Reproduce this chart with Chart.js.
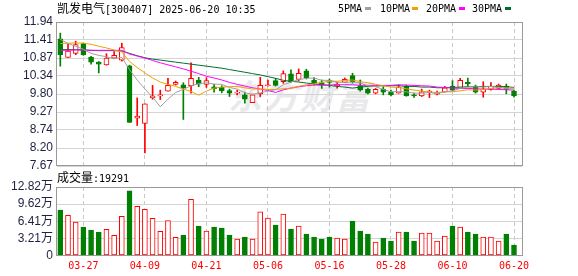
<!DOCTYPE html>
<html>
<head>
<meta charset="UTF-8">
<title>凯发电气 K线</title>
<script src="https://cdn.jsdelivr.net/npm/chart.js@4"></script>
<style>
  body { margin: 0; background: #fff; }
  #wrap { position: relative; width: 578px; height: 276px; overflow: hidden; }
  canvas { position: absolute; left: 0; top: 0; }
  .txt { position: absolute; font-family: "DejaVu Sans Mono", monospace; font-size: 10px; line-height: 12px; color: #000; white-space: nowrap; }
  .cjk { font-family: "Noto Sans CJK SC", sans-serif; font-size: 12px; }
  .box { position: absolute; width: 6px; height: 3px; }
  #watermark { position: absolute; left: 228px; top: 70px; font-family: "Noto Sans CJK SC", sans-serif; font-weight: bold; font-style: italic; font-size: 34px; letter-spacing: 2px; color: #e9e9ec; white-space: nowrap; }
</style>
</head>
<body>
<div id="wrap">
  <div id="watermark">东方财富</div>
  <canvas id="kline" width="578" height="276"></canvas>
  <canvas id="volume" width="578" height="276"></canvas>
  <div class="txt" style="left:57px; top:2px;"><span class="cjk">凯发电气</span>[300407] 2025-06-20 10:35</div>
  <div class="txt" style="left:338px; top:3px;">5PMA</div>
  <div class="box" style="left:365px; top:7px; background:#a0a0a0;"></div>
  <div class="txt" style="left:380px; top:3px;">10PMA</div>
  <div class="box" style="left:412px; top:7px; background:#f0a000;"></div>
  <div class="txt" style="left:426px; top:3px;">20PMA</div>
  <div class="box" style="left:459px; top:7px; background:#ff00ff;"></div>
  <div class="txt" style="left:472px; top:3px;">30PMA</div>
  <div class="box" style="left:505px; top:7px; background:#006f2e;"></div>
  <div class="txt" style="left:57px; top:171px;"><span class="cjk">成交量</span>:19291</div>
</div>
<script>
// trading days shown (MM-DD)
const dates = ['03-24','03-25','03-26','03-27','03-28','03-31','04-01','04-02','04-03','04-07',
  '04-08','04-09','04-10','04-11','04-14','04-15','04-16','04-17','04-18','04-21',
  '04-22','04-23','04-24','04-25','04-28','04-29','04-30','05-06','05-07','05-08',
  '05-09','05-12','05-13','05-14','05-15','05-16','05-19','05-20','05-21','05-22',
  '05-23','05-26','05-27','05-28','05-29','05-30','06-03','06-04','06-05','06-06',
  '06-09','06-10','06-11','06-12','06-13','06-16','06-17','06-18','06-19','06-20'];
const tickDates = ['03-27','04-09','04-21','05-06','05-16','05-28','06-10','06-20'];

const opens = [11.44,10.89,11.01,11.30,10.89,10.75,10.67,10.87,10.81,10.64,
  9.09,8.93,9.69,9.75,9.89,10.09,10.08,10.05,10.22,10.09,
  10.02,10.00,9.91,9.83,9.78,9.55,9.81,10.05,10.20,10.17,
  10.40,10.24,10.49,10.22,10.14,10.20,10.05,10.15,10.35,10.05,
  9.94,9.83,9.95,9.87,9.83,10.04,9.78,9.75,9.85,9.80,
  9.87,10.04,9.97,10.15,10.04,9.86,9.94,9.97,10.04,9.89];
const highs = [11.61,11.29,11.37,11.32,10.92,10.77,11.00,11.06,11.31,10.66,
  9.69,9.51,10.06,9.92,10.27,10.19,10.14,10.73,10.30,10.29,
  10.09,10.05,9.95,9.92,9.86,9.78,10.30,10.22,10.27,10.49,
  10.52,10.55,10.54,10.29,10.22,10.25,10.16,10.28,10.42,10.22,
  9.98,9.97,10.02,9.92,10.07,10.07,9.83,9.95,9.92,9.89,
  10.03,10.20,10.27,10.28,10.07,10.17,10.14,10.10,10.10,9.92];
const lows = [10.63,10.89,10.97,10.95,10.69,10.43,10.66,10.85,10.78,8.96,
  8.87,8.06,9.65,9.64,9.89,10.07,9.05,9.83,10.02,10.00,
  9.86,9.84,9.73,9.78,9.53,9.55,9.73,10.04,10.04,10.12,
  10.15,10.19,10.25,10.07,9.97,10.01,9.98,10.14,10.13,9.89,
  9.81,9.81,9.78,9.75,9.83,9.74,9.70,9.73,9.70,9.78,
  9.86,9.89,9.97,10.02,9.83,9.71,9.92,9.95,9.81,9.71];
const closes = [10.97,11.08,11.27,10.97,10.75,10.69,10.87,10.95,11.18,8.96,
  9.15,9.51,9.75,9.77,10.06,10.15,9.99,10.27,10.10,10.20,
  9.96,9.90,9.83,9.86,9.65,9.78,10.06,10.08,10.06,10.41,
  10.17,10.42,10.29,10.12,10.07,10.15,10.10,10.24,10.17,9.92,
  9.83,9.94,9.86,9.78,10.00,9.75,9.75,9.87,9.89,9.84,
  9.99,9.92,10.21,10.11,9.86,9.94,10.03,10.07,9.94,9.75];

const ma5 = [11.43,11.30,11.22,11.13,11.01,10.95,10.91,10.85,10.89,10.53,
  10.22,9.95,9.71,9.43,9.65,9.85,9.94,10.05,10.11,10.14,
  10.10,10.09,10.00,9.95,9.84,9.80,9.84,9.89,9.93,10.08,
  10.16,10.23,10.27,10.28,10.21,10.21,10.15,10.15,10.16,10.13,
  10.05,10.02,9.94,9.87,9.88,9.87,9.83,9.83,9.85,9.82,
  9.87,9.90,9.97,10.01,10.02,10.01,10.03,10.00,9.97,9.95];
const ma10 = [11.30,11.31,11.32,11.31,11.28,11.22,11.17,11.11,11.05,10.77,
  10.59,10.43,10.28,10.16,10.09,10.03,9.95,9.88,9.77,9.89,
  9.98,10.01,10.02,10.03,9.99,9.95,9.96,9.94,9.94,9.96,
  9.98,10.03,10.08,10.10,10.15,10.18,10.18,10.21,10.22,10.17,
  10.14,10.09,10.05,10.01,10.00,9.96,9.92,9.89,9.86,9.85,
  9.87,9.87,9.90,9.93,9.92,9.94,9.97,9.99,9.99,9.98];
const ma20 = [11.10,11.10,11.11,11.11,11.10,11.10,11.10,11.10,11.10,10.99,
  10.93,10.87,10.80,10.73,10.67,10.61,10.55,10.48,10.41,10.33,
  10.28,10.22,10.15,10.09,10.04,9.99,9.95,9.91,9.85,9.93,
  9.98,10.02,10.05,10.07,10.07,10.07,10.08,10.08,10.08,10.06,
  10.06,10.06,10.06,10.06,10.08,10.07,10.06,10.05,10.04,10.01,
  10.00,9.98,9.97,9.97,9.96,9.95,9.95,9.94,9.93,9.92];
const ma30 = [11.12,11.12,11.12,11.11,11.10,11.09,11.09,11.09,11.08,11.01,
  10.94,10.88,10.84,10.81,10.78,10.75,10.72,10.69,10.66,10.63,
  10.60,10.57,10.53,10.49,10.45,10.41,10.37,10.32,10.27,10.21,
  10.18,10.16,10.13,10.10,10.08,10.06,10.03,10.01,9.98,10.01,
  10.03,10.04,10.05,10.05,10.05,10.03,10.03,10.01,10.01,9.99,
  9.99,10.00,10.01,10.02,10.02,10.03,10.03,10.03,10.02,10.00];

// volume in 万
const volumes = [8.52,7.52,6.27,5.34,4.78,4.40,4.90,3.78,7.34,12.08,
  9.21,8.65,6.97,4.53,6.52,3.40,3.78,10.52,5.52,4.59,
  5.34,5.15,3.84,3.09,3.46,3.09,8.15,7.02,5.71,7.77,
  4.96,5.52,4.03,3.46,3.09,3.46,3.28,3.09,6.46,4.59,
  4.03,2.53,3.28,2.72,4.40,4.40,2.72,4.21,4.21,2.72,
  3.65,5.52,5.34,4.40,4.03,3.46,3.46,2.72,4.03,1.93];

const priceTicks = [11.94, 11.41, 10.87, 10.34, 9.80, 9.27, 8.74, 8.20, 7.67];
const volTicks = [0, 3.21, 6.41, 9.62, 12.82];

const RED = '#ff0000';
const GREEN = '#008000';
const LABEL = '#1e2240';
const tickIdx = tickDates.map(d => dates.indexOf(d));
const isUp = i => closes[i] >= opens[i];

const frame = {
  id: 'frame',
  beforeDatasetsDraw(chart) {
    const a = chart.chartArea;
    const ctx = chart.ctx;
    ctx.save();
    ctx.strokeStyle = '#9a9a9a';
    ctx.lineWidth = 1;
    ctx.strokeRect(Math.round(a.left) - 0.5, Math.round(a.top) + 0.5,
      Math.round(a.right - a.left) + 1, Math.round(a.bottom - a.top) - 1);
    ctx.restore();
  }
};

function xScale(showLabels) {
  return {
    type: 'linear',
    min: -0.43,
    max: 60.04,
    offset: false,
    afterBuildTicks: s => { s.ticks = tickIdx.map(v => ({ value: v })); },
    afterFit: s => { if (showLabels) s.height = 20.5; },
    ticks: {
      display: showLabels,
      autoSkip: false,
      maxRotation: 0,
      padding: 5,
      color: RED,
      font: { family: '"DejaVu Sans Mono"', size: 10 },
      callback: v => dates[v]
    },
    grid: { color: '#c8c8c8', drawTicks: false, offset: false },
    border: { display: false, dash: [4, 3] }
  };
}

function yScale(ticks, fmt) {
  return {
    min: Math.min(...ticks),
    max: Math.max(...ticks),
    afterBuildTicks: s => { s.ticks = ticks.map(v => ({ value: v })); },
    afterFit: s => { s.width = 57; },
    ticks: {
      autoSkip: false,
      color: LABEL,
      padding: 4,
      font: { family: '"Liberation Sans", "Noto Sans CJK SC"', size: 12 },
      callback: fmt
    },
    grid: { color: '#d4d4d4', drawTicks: false },
    border: { display: false }
  };
}

const commonOpts = {
  responsive: false,
  animation: false,
  devicePixelRatio: 1,
  plugins: { legend: { display: false }, tooltip: { enabled: false } }
};

const lineSet = (data, color) => ({
  type: 'line',
  data: data.map((v, i) => ({ x: i, y: v })),
  borderColor: color,
  borderWidth: 1,
  pointRadius: 0,
  tension: 0,
  order: 0
});

new Chart(document.getElementById('kline'), {
  type: 'bar',
  data: {
    datasets: [
      lineSet(ma5, '#a0a0a0'),
      lineSet(ma10, '#f0a000'),
      lineSet(ma20, '#ff00ff'),
      lineSet(ma30, '#006f2e'),
      {
        data: opens.map((o, i) => ({ x: i, y: [o, closes[i]] })),
        backgroundColor: c => (c.dataIndex !== undefined && isUp(c.dataIndex)) ? '#ffffff' : GREEN,
        borderColor: c => (c.dataIndex !== undefined && isUp(c.dataIndex)) ? RED : GREEN,
        borderWidth: 1,
        borderSkipped: false,
        barThickness: 5,
        minBarLength: 1,
        grouped: false,
        order: 1
      },
      {
        data: lows.map((l, i) => ({ x: i, y: [l, highs[i]] })),
        backgroundColor: c => (c.dataIndex !== undefined && isUp(c.dataIndex)) ? RED : GREEN,
        borderWidth: 0,
        barThickness: 1,
        grouped: false,
        order: 2
      }
    ]
  },
  options: {
    ...commonOpts,
    layout: { padding: { left: 0, right: 56, top: 22, bottom: 110 } },
    scales: {
      x: xScale(false),
      y: yScale(priceTicks, v => v.toFixed(2))
    }
  },
  plugins: [frame]
});

new Chart(document.getElementById('volume'), {
  type: 'bar',
  data: {
    datasets: [{
      data: volumes.map((v, i) => ({ x: i, y: v })),
      backgroundColor: c => (c.dataIndex !== undefined && isUp(c.dataIndex)) ? '#ffffff' : GREEN,
      borderColor: c => (c.dataIndex !== undefined && isUp(c.dataIndex)) ? RED : GREEN,
      borderWidth: 1,
      borderSkipped: false,
      barThickness: 5,
      grouped: false
    }]
  },
  options: {
    ...commonOpts,
    layout: { padding: { left: 0, right: 56, top: 187, bottom: 0 } },
    scales: {
      x: xScale(true),
      y: yScale(volTicks, v => v === 0 ? '0' : v.toFixed(2) + '万')
    }
  },
  plugins: [frame]
});
</script>
</body>
</html>
